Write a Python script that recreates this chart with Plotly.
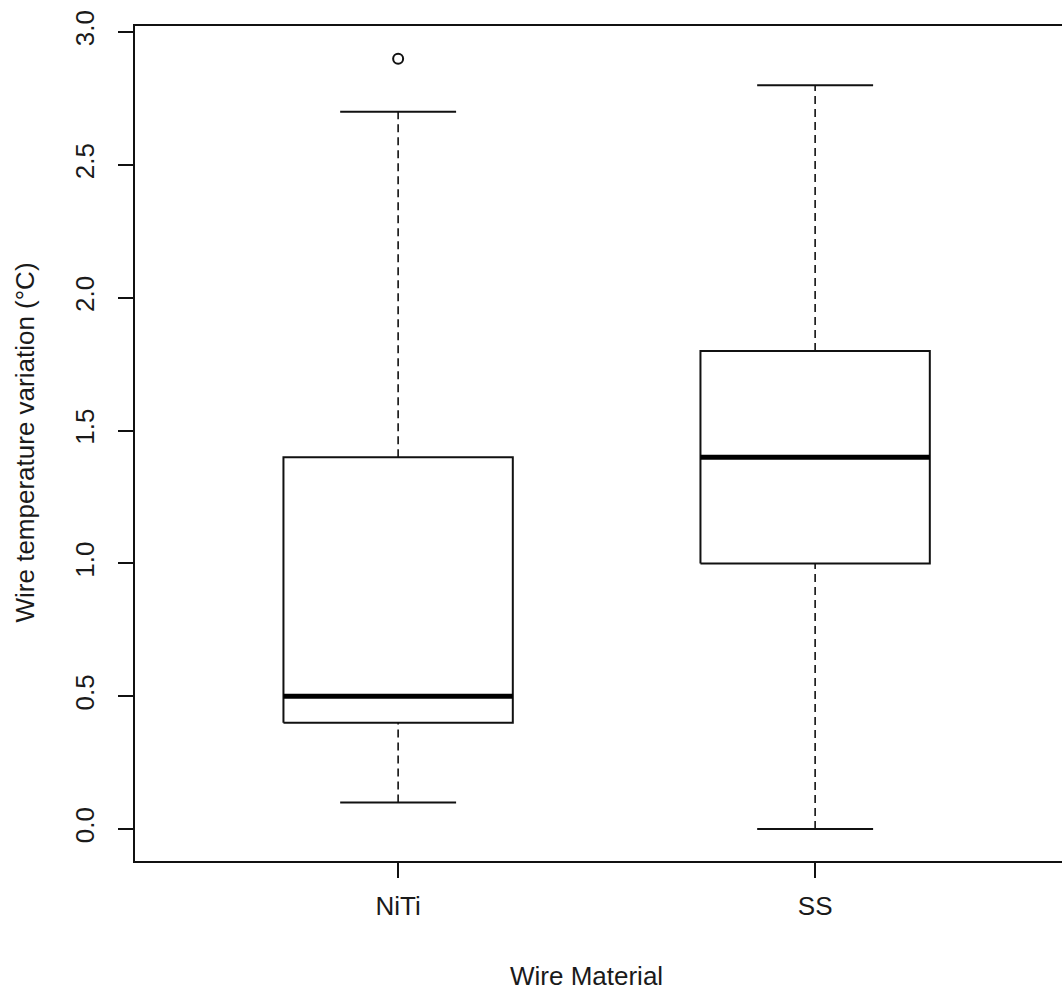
import plotly.graph_objects as go

# Five-number summaries per wire material
materials = ["NiTi", "SS"]
lower_whisker = [0.1, 0.0]
q1 = [0.4, 1.0]
median = [0.5, 1.4]
q3 = [1.4, 1.8]
upper_whisker = [2.7, 2.8]
outliers = [[2.9], []]

y_ticks = [0.0, 0.5, 1.0, 1.5, 2.0, 2.5, 3.0]
y_tick_labels = ["0.0", "0.5", "1.0", "1.5", "2.0", "2.5", "3.0"]

BOX_HALF = 0.275
CAP_HALF = 0.139
INK = "#111111"
FONT = "Liberation Sans, Arial, sans-serif"
FSIZE = 26

fig = go.Figure()

for i, name in enumerate(materials):
    xc = i + 1
    # whiskers (dashed)
    fig.add_trace(go.Scatter(
        x=[xc, xc, None, xc, xc],
        y=[lower_whisker[i], q1[i], None, q3[i], upper_whisker[i]],
        mode="lines", line=dict(color=INK, width=1.6, dash="8px,5px"),
        hoverinfo="skip", showlegend=False))
    # whisker caps
    fig.add_trace(go.Scatter(
        x=[xc - CAP_HALF, xc + CAP_HALF, None, xc - CAP_HALF, xc + CAP_HALF],
        y=[lower_whisker[i], lower_whisker[i], None, upper_whisker[i], upper_whisker[i]],
        mode="lines", line=dict(color=INK, width=2),
        hoverinfo="skip", showlegend=False))
    # box
    fig.add_trace(go.Scatter(
        x=[xc - BOX_HALF, xc + BOX_HALF, xc + BOX_HALF, xc - BOX_HALF, xc - BOX_HALF],
        y=[q1[i], q1[i], q3[i], q3[i], q1[i]],
        mode="lines", line=dict(color=INK, width=2),
        fill="toself", fillcolor="white",
        hoverinfo="skip", showlegend=False))
    # median
    fig.add_trace(go.Scatter(
        x=[xc - BOX_HALF, xc + BOX_HALF],
        y=[median[i], median[i]],
        mode="lines", line=dict(color="black", width=5),
        hoverinfo="skip", showlegend=False))
    # outliers
    if outliers[i]:
        fig.add_trace(go.Scatter(
            x=[xc] * len(outliers[i]), y=outliers[i],
            mode="markers",
            marker=dict(symbol="circle-open", size=10, color=INK, line=dict(width=2)),
            hoverinfo="skip", showlegend=False))

fig.update_layout(
    width=1062, height=992,
    margin=dict(l=135, r=0, t=26, b=131),
    paper_bgcolor="white", plot_bgcolor="white",
    font=dict(family=FONT, size=FSIZE, color="#1a1a1a"),
    xaxis=dict(
        range=[0.369, 2.592],
        tickvals=[1, 2], ticktext=materials,
        showline=True, linecolor=INK, linewidth=2, mirror=True,
        ticks="outside", ticklen=15, tickwidth=2, tickcolor=INK,
        ticklabelstandoff=6,
        showgrid=False, zeroline=False,
    ),
    yaxis=dict(
        range=[-0.12, 3.023],
        tickvals=y_ticks, ticktext=y_tick_labels, tickangle=-90,
        showline=True, linecolor=INK, linewidth=2, mirror=False,
        ticks="outside", ticklen=15, tickwidth=2, tickcolor=INK,
        ticklabelstandoff=14,
        showgrid=False, zeroline=False,
    ),
    annotations=[
        dict(text="Wire Material", xref="paper", yref="paper",
             x=(586 - 135) / 927, y=0, yshift=-98, xanchor="center", yanchor="top",
             showarrow=False, font=dict(family=FONT, size=FSIZE, color="#1a1a1a")),
        dict(text="Wire temperature variation (°C)", xref="paper", yref="paper",
             x=0, xshift=-94, y=(861 - 442.5) / 835, xanchor="right", yanchor="middle",
             textangle=-90, showarrow=False,
             font=dict(family=FONT, size=FSIZE, color="#1a1a1a")),
    ],
)

fig.write_html("out.html")
